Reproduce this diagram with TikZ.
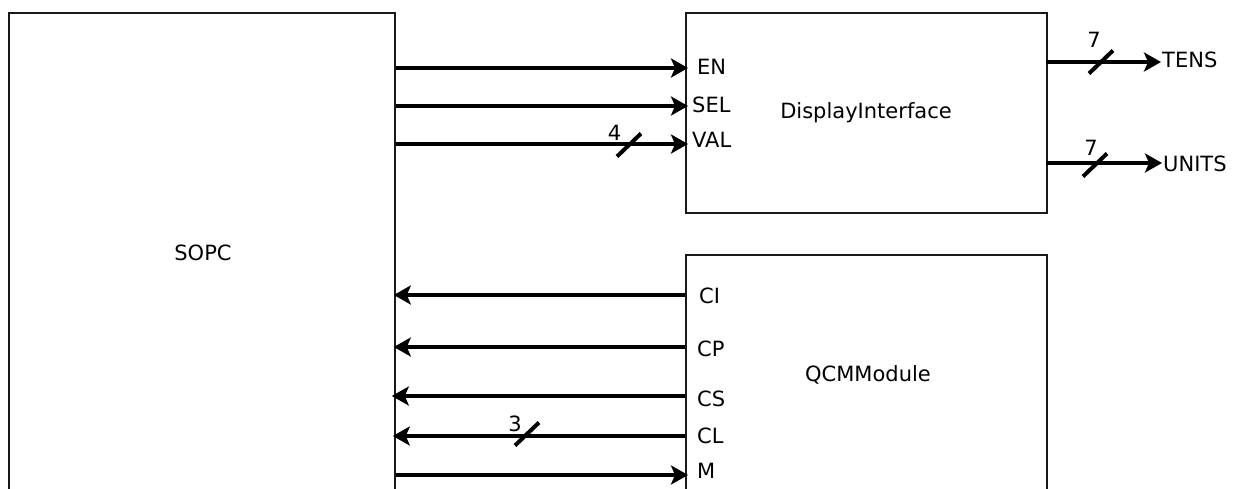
\documentclass[tikz,border=0pt]{standalone}
\usepackage{fontspec}
\setmainfont{DejaVu Sans}
\usetikzlibrary{arrows.meta,calc}
\tikzset{sigtip/.tip={Stealth[length=17pt,width=19pt,inset=4pt]}}
\begin{document}
\begin{tikzpicture}[x=1pt,y=-1pt,
  font=\fontsize{21}{25}\selectfont,
  blk/.style={draw=black!90,line width=1.8pt,rectangle,anchor=north west,inner sep=0pt},
  sig/.style={line width=4.2pt,-sigtip},
  busmark/.style={line width=4pt},
  port/.style={anchor=west,inner sep=0pt},
  num/.style={inner sep=0pt}]
\useasboundingbox (0,0) rectangle (1234,488);
\clip (0,0) rectangle (1234,488);
% blocks
\node[blk,minimum width=386pt,minimum height=540pt] (sopc) at (8,12) {};
\node[blk,minimum width=361pt,minimum height=200pt] (disp) at (685,12) {};
\node[blk,minimum width=361pt,minimum height=300pt] (qcm) at (685,254) {};
\node (sopcL) at (203,253) {SOPC};
\node (dispL) at (866,113) {DisplayInterface};
\node (qcmL) at (868,375) {QCMModule};
% port coordinates
\coordinate (pEN) at (688,68);
\coordinate (pSEL) at (688,106);
\coordinate (pVAL) at (688,144);
\coordinate (pCI) at (685,295);
\coordinate (pCP) at (685,347);
\coordinate (pCS) at (685,396);
\coordinate (pCL) at (685,436);
\coordinate (pM) at (688,475);
\coordinate (pTENS) at (1046,62);
\coordinate (pUNITS) at (1046,163);
\coordinate (oTENS) at (1161,62);
\coordinate (oUNITS) at (1162,163);
% port labels
\node[port] (lEN) at (697,67) {EN};
\node[port] (lSEL) at (692,105) {SEL};
\node[port] (lVAL) at (692,140) {VAL};
\node[port] (lCI) at (699,296) {CI};
\node[port] (lCP) at (697,349) {CP};
\node[port] (lCS) at (697,399) {CS};
\node[port] (lCL) at (697,436) {CL};
\node[port] (lM) at (697,471) {M};
\node[port] (lTENS) at (1162,60) {TENS};
\node[port] (lUNITS) at (1163,164) {UNITS};
% connectors
\draw[sig] (sopc.east |- pEN) -- (pEN);
\draw[sig] (sopc.east |- pSEL) -- (pSEL);
\draw[sig] (sopc.east |- pVAL) -- (pVAL);
\draw[sig] (pCI) -- ($(sopc.east |- pCI)+(-2,0)$);
\draw[sig] (pCP) -- ($(sopc.east |- pCP)+(-2,0)$);
\draw[sig] (pCS) -- ($(sopc.east |- pCS)+(-4,0)$);
\draw[sig] (pCL) -- ($(sopc.east |- pCL)+(-3,0)$);
\draw[sig] (sopc.east |- pM) -- (pM);
\draw[sig] (pTENS) -- (oTENS);
\draw[sig] (pUNITS) -- (oUNITS);
% bus width marks
\coordinate (sVAL) at (629,145);
\coordinate (sCL) at (527,434);
\coordinate (sTENS) at (1101,62);
\coordinate (sUNITS) at (1095,165);
\draw[busmark] ($(sVAL)+(-12,11.5)$) -- ($(sVAL)+(12,-11.5)$);
\draw[busmark] ($(sCL)+(-12,11.5)$) -- ($(sCL)+(12,-11.5)$);
\draw[busmark] ($(sTENS)+(-12,11.5)$) -- ($(sTENS)+(12,-11.5)$);
\draw[busmark] ($(sUNITS)+(-12,11.5)$) -- ($(sUNITS)+(12,-11.5)$);
\node[num] (nVAL) at (614.5,133) {4};
\node[num] (nCL) at (515,423.5) {3};
\node[num] (nTENS) at (1094,40) {7};
\node[num] (nUNITS) at (1091,148) {7};
\end{tikzpicture}
\end{document}
